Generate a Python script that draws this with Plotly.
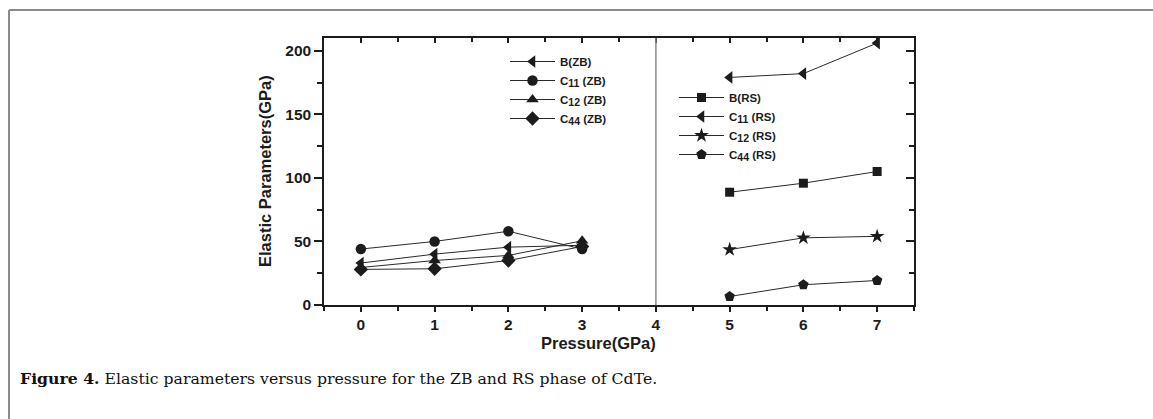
import plotly.graph_objects as go

# ---------------- data ----------------
pressure_zb = [0, 1, 2, 3]
b_zb = [33, 40, 45.5, 47]
c11_zb = [44, 50, 58, 44]
c12_zb = [29.5, 35, 39, 50.5]
c44_zb = [28, 28.5, 35, 46]

pressure_rs = [5, 6, 7]
b_rs = [88.7, 95.8, 105]
c11_rs = [179, 182, 206]
c12_rs = [43.6, 52.8, 54]
c44_rs = [6.7, 15.9, 19.3]

x_ticks = [0, 1, 2, 3, 4, 5, 6, 7]
y_ticks = [0, 50, 100, 150, 200]
x_range = [-0.5, 7.5]
y_range = [0, 210]

# ---------------- layout constants ----------------
W, H = 1153, 419
L, R, T, B = 324, 239, 38, 114
PW, PH = W - L - R, H - T - B


def px_x(p):
    return (p - L) / PW


def px_y(p):
    return (H - B - p) / PH


FONT = "Liberation Sans"
ink = "#1c1c1c"

fig = go.Figure()


def sub(n):
    return "<sub><span style='font-size:10.5px'>" + n + "</span></sub>"


def add(x, y, name, symbol, legend, size=10):
    fig.add_trace(go.Scatter(
        x=x, y=y, name=name, mode="lines+markers",
        line=dict(color="#2a2a2a", width=1),
        marker=dict(symbol=symbol, size=size, color=ink, line=dict(width=0)),
        legend=legend,
    ))


add(pressure_zb, b_zb, "B(ZB)", "triangle-left", "legend", 11)
add(pressure_zb, c11_zb, "C" + sub("11") + " (ZB)", "circle", "legend", 10.5)
add(pressure_zb, c12_zb, "C" + sub("12") + " (ZB)", "triangle-up", "legend", 11)
add(pressure_zb, c44_zb, "C" + sub("44") + " (ZB)", "diamond", "legend", 11)

add(pressure_rs, b_rs, "B(RS)", "square", "legend2", 9)
add(pressure_rs, c11_rs, "C" + sub("11") + " (RS)", "triangle-left", "legend2", 11)
add(pressure_rs, c12_rs, "C" + sub("12") + " (RS)", "star", "legend2", 11)
add(pressure_rs, c44_rs, "C" + sub("44") + " (RS)", "pentagon", "legend2", 11)

# dummy trace for mirrored axes with inward ticks
fig.add_trace(go.Scatter(x=[], y=[], xaxis="x2", yaxis="y2", showlegend=False))

axis_common = dict(
    showgrid=False, zeroline=False, showline=True, linecolor=ink, linewidth=1.5,
    tickcolor=ink, tickwidth=1.5,
    tickfont=dict(family=FONT, size=15.5, color=ink, weight="bold"),
)

legend_font = dict(family=FONT, size=11.5, color=ink, weight="bold")

fig.update_layout(
    width=W, height=H,
    margin=dict(l=L, r=R, t=T, b=B),
    paper_bgcolor="white", plot_bgcolor="white",
    xaxis=dict(axis_common, range=x_range, tickvals=x_ticks, ticks="outside",
               ticklen=5, minor=dict(ticks="outside", ticklen=4, dtick=0.5, tickcolor=ink, tickwidth=1.5)),
    yaxis=dict(axis_common, range=y_range, tickvals=y_ticks, ticks="outside",
               ticklen=8, minor=dict(ticks="outside", ticklen=5, dtick=25, tickcolor=ink, tickwidth=1.5)),
    xaxis2=dict(axis_common, overlaying="x", side="top", anchor="y2", range=x_range,
                tickvals=x_ticks, ticks="inside", ticklen=5, showticklabels=False,
                minor=dict(ticks="inside", ticklen=4, dtick=0.5, tickcolor=ink, tickwidth=1.5)),
    yaxis2=dict(axis_common, overlaying="y", side="right", anchor="x2", range=y_range,
                tickvals=y_ticks, ticks="inside", ticklen=8, showticklabels=False,
                minor=dict(ticks="inside", ticklen=5, dtick=25, tickcolor=ink, tickwidth=1.5)),
    legend=dict(x=px_x(505), y=px_y(47), xanchor="left", yanchor="top",
                bgcolor="rgba(0,0,0,0)", borderwidth=0, itemwidth=45,
                font=legend_font, tracegroupgap=0),
    legend2=dict(x=px_x(674), y=px_y(83), xanchor="left", yanchor="top",
                 bgcolor="rgba(0,0,0,0)", borderwidth=0, itemwidth=45,
                 font=legend_font, tracegroupgap=0),
    showlegend=True,
)

# vertical phase boundary at 4 GPa
fig.add_shape(type="line", xref="x", yref="paper", x0=4, x1=4, y0=0, y1=1,
              line=dict(color="#8a8a8a", width=1.5))

# figure frame (gray lines: left and top)
fig.add_shape(type="line", xref="paper", yref="paper", x0=px_x(9), x1=px_x(9),
              y0=px_y(10), y1=px_y(H + 5), line=dict(color="#8a8a8a", width=2))
fig.add_shape(type="line", xref="paper", yref="paper", x0=px_x(9), x1=px_x(W + 5),
              y0=px_y(10), y1=px_y(10), line=dict(color="#8a8a8a", width=2))

# axis titles
fig.add_annotation(text="Elastic Parameters(GPa)", xref="paper", yref="paper",
                   x=px_x(265), y=px_y(171), xanchor="center", yanchor="middle",
                   textangle=-90, showarrow=False,
                   font=dict(family=FONT, size=16.5, color=ink, weight="bold"))
fig.add_annotation(text="Pressure(GPa)", xref="paper", yref="paper",
                   x=px_x(598), y=px_y(343), xanchor="center", yanchor="middle",
                   showarrow=False,
                   font=dict(family=FONT, size=16.5, color=ink, weight="bold"))

# caption
fig.add_annotation(text="<b>Figure 4.</b> Elastic parameters versus pressure for the ZB and RS phase of CdTe.",
                   xref="paper", yref="paper", x=px_x(18), y=px_y(378),
                   xanchor="left", yanchor="middle", showarrow=False,
                   font=dict(family="DejaVu Serif", size=15.7, color="#111111"))

fig.write_html("out.html", config={"displayModeBar": False},
               post_script="document.body.style.margin='0';")
